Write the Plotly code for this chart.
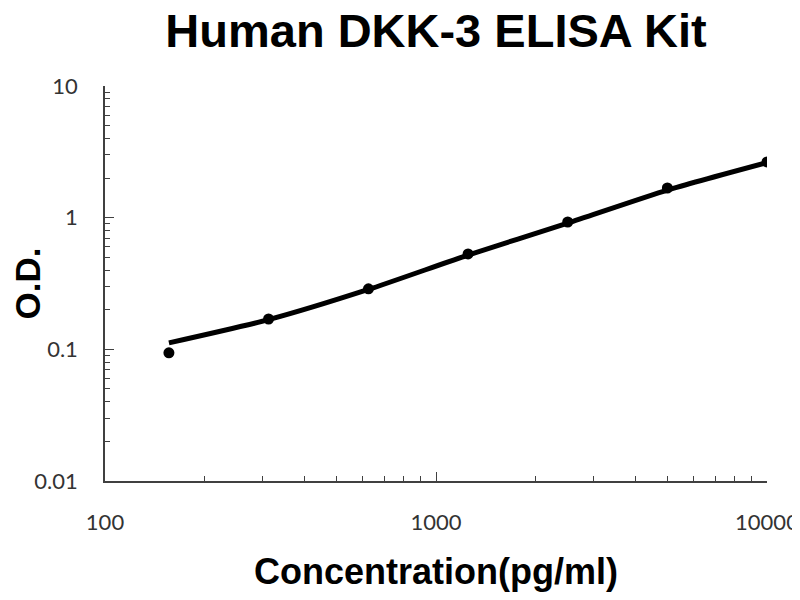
import plotly.graph_objects as go

# Data
concentration = [156, 312, 625, 1250, 2500, 5000, 10000]
od_measured = [0.094, 0.170, 0.288, 0.53, 0.927, 1.68, 2.65]
od_fitted = [0.112, 0.168, 0.285, 0.52, 0.91, 1.62, 2.62]

x_ticks = [100, 1000, 10000]
x_tick_labels = ["100", "1000", "10000"]
y_ticks = [0.01, 0.1, 1, 10]
y_tick_labels = ["0.01", "0.1", "1", "10"]

# Constants
LINECOLOR = "black"
AXISCOLOR = "#404040"
TICKFONT = dict(family="Lato, Carlito, sans-serif", size=22, color="#333333")
TITLEFONT = "Liberation Sans, Arial, sans-serif"

fig = go.Figure()

fig.add_trace(
    go.Scatter(
        x=concentration,
        y=od_fitted,
        mode="lines",
        line=dict(color=LINECOLOR, width=5, shape="spline", smoothing=0.6),
        hoverinfo="skip",
        showlegend=False,
    )
)

fig.add_trace(
    go.Scatter(
        x=concentration,
        y=od_measured,
        mode="markers",
        marker=dict(color=LINECOLOR, size=11),
        showlegend=False,
    )
)

axis_common = dict(
    type="log",
    automargin=False,
    showline=True,
    linecolor=AXISCOLOR,
    linewidth=1.5,
    showgrid=False,
    zeroline=False,
    ticks="inside",
    ticklen=9,
    tickwidth=1.2,
    tickcolor=AXISCOLOR,
    tickfont=TICKFONT,
    minor=dict(ticks="inside", ticklen=5, tickwidth=1.2, tickcolor=AXISCOLOR, dtick="D1", showgrid=False),
)

# the page puts the figure 8px in from the top left corner, margins allow for that
fig.update_layout(
    width=800,
    height=600,
    paper_bgcolor="white",
    plot_bgcolor="white",
    margin=dict(l=97, r=41, t=78, b=127),
    title=dict(
        text="<b>Human DKK-3 ELISA Kit</b>",
        x=0.535,
        xanchor="center",
        y=0.962,
        yanchor="middle",
        font=dict(family=TITLEFONT, size=47, color="black"),
    ),
    xaxis=dict(
        axis_common,
        range=[2, 4],
        tickvals=x_ticks,
        ticktext=x_tick_labels,
        ticklabelstandoff=21,
        title=dict(
            text="<b>Concentration(pg/ml)</b>",
            font=dict(family=TITLEFONT, size=36, color="black"),
            standoff=25,
        ),
    ),
    yaxis=dict(
        axis_common,
        range=[-2, 1],
        tickvals=y_ticks,
        ticktext=y_tick_labels,
        ticklabelstandoff=21,
        title=dict(
            text="<b>O.D.</b>",
            font=dict(family=TITLEFONT, size=35, color="black"),
            standoff=12,
        ),
    ),
)

fig.write_html("out.html")
